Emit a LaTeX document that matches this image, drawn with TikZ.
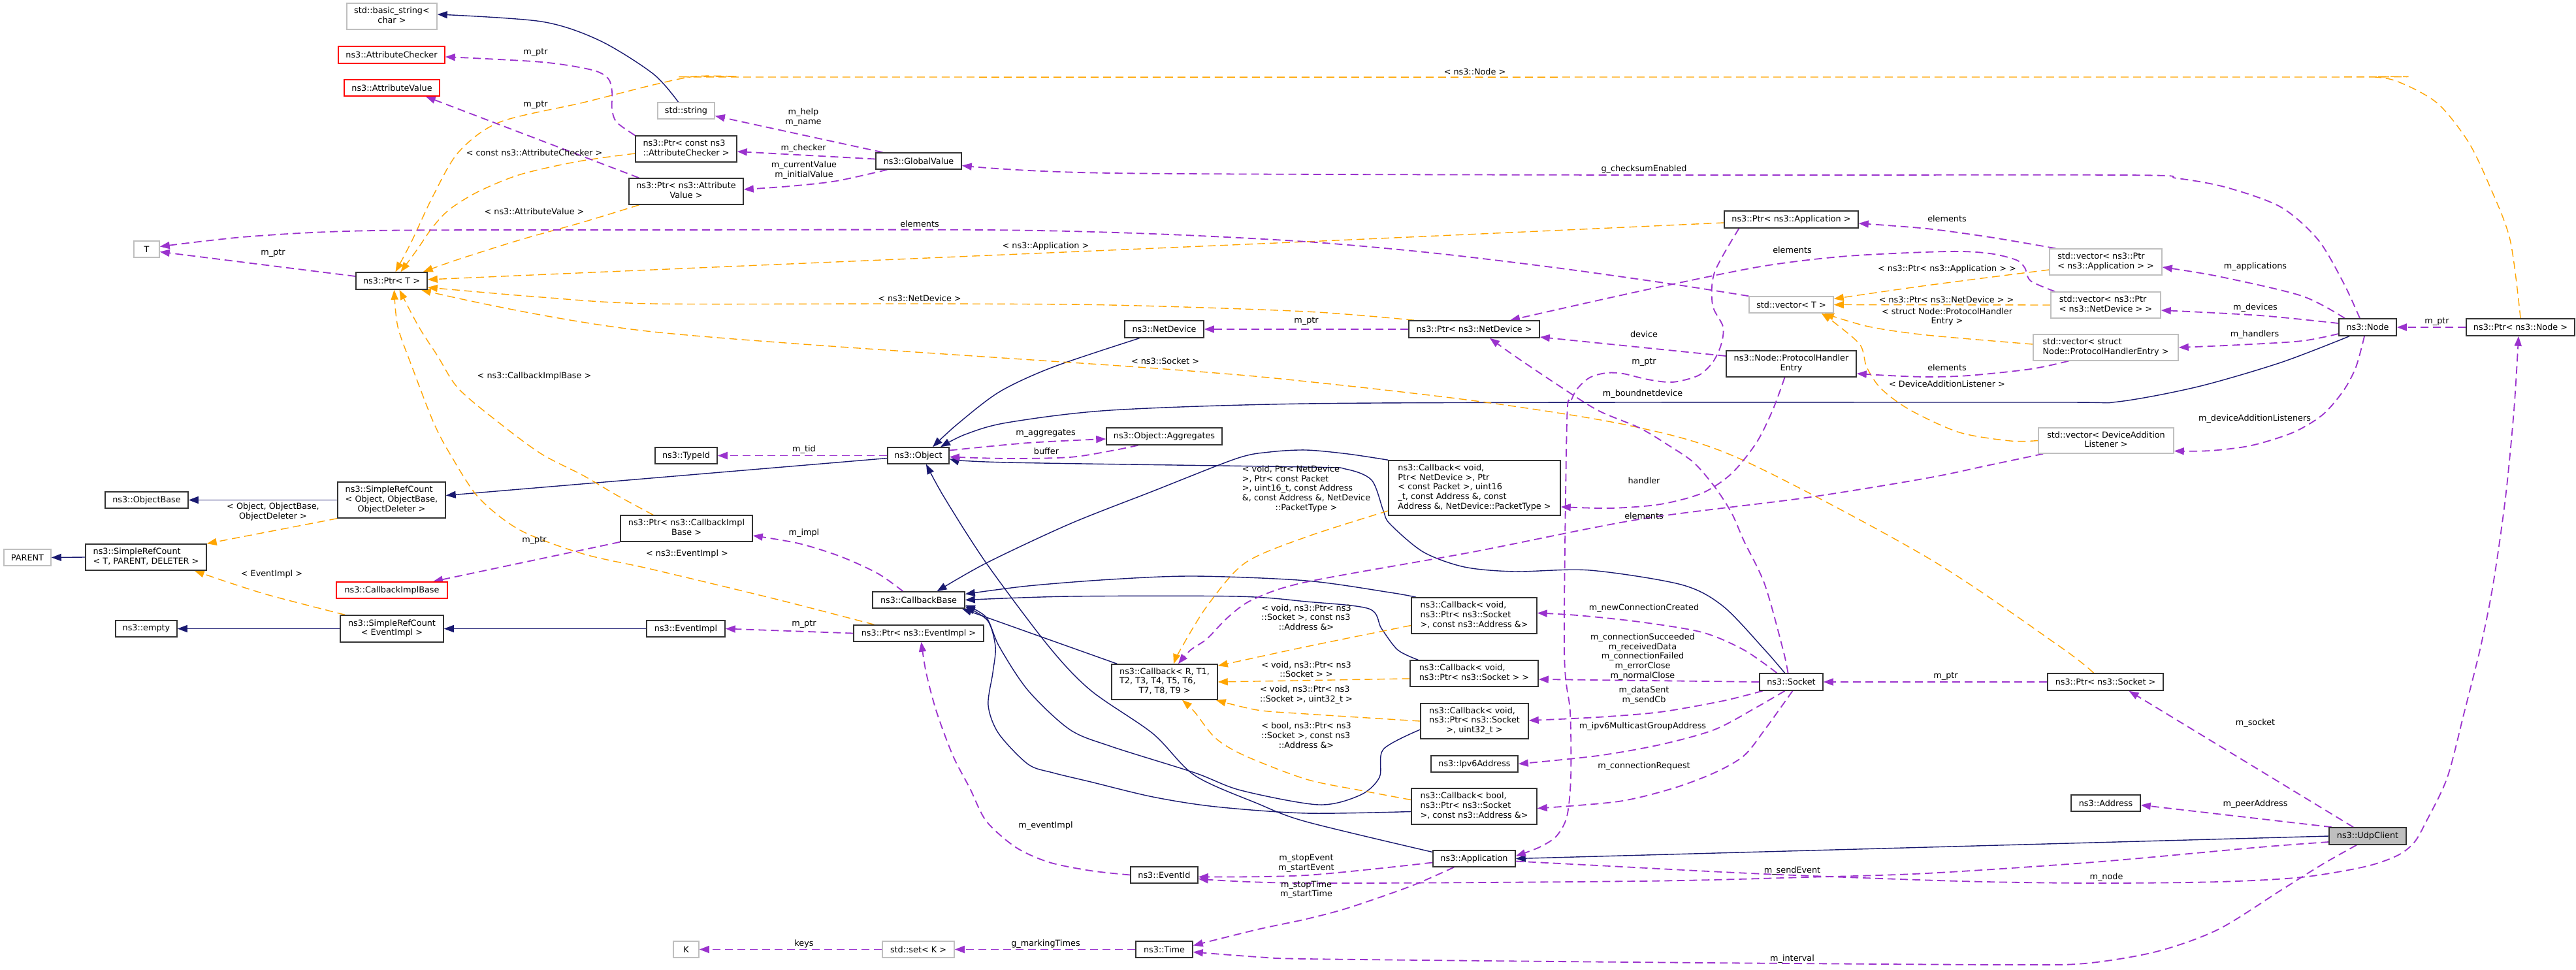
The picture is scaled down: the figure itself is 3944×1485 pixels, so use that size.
\documentclass[tikz,border=0pt]{standalone}
\usepackage{fontspec}
\setmainfont{DejaVu Sans}
\usetikzlibrary{arrows.meta}
\pgfdeclarelayer{bg}
\pgfsetlayers{bg,main}
\definecolor{inhc}{HTML}{191970}
\definecolor{usec}{HTML}{9A32CD}
\definecolor{tplc}{HTML}{FFA500}
\definecolor{undocc}{HTML}{BFBFBF}
\definecolor{boxc}{HTML}{333333}
\newcommand\dxfont{\fontsize{12.8}{14.6}\selectfont}
\newcommand\ml[2]{\begin{tabular}{@{}l@{}}#1\\\multicolumn{1}{@{}c@{}}{#2}\end{tabular}}
\tikzset{
  cls/.style={draw=boxc, line width=1.5pt, fill=white, inner sep=0pt, font=\dxfont},
  undoc/.style={cls, draw=undocc},
  redc/.style={cls, draw=red},
  sz/.style 2 args={minimum width=#1pt, minimum height=#2pt},
  lbl/.style={inner sep=0pt, font=\dxfont},
  inh/.style={draw=inhc, line width=1.4pt, -{Triangle[length=15pt,width=11pt]}},
  use/.style={draw=usec, line width=1.8pt, dash pattern=on 12pt off 7pt, -{Triangle[length=15pt,width=11pt]}},
  tpl/.style={draw=tplc, line width=1.4pt, dash pattern=on 12pt off 7pt, -{Triangle[length=15pt,width=11pt]}}
}
\begin{document}
\begin{tikzpicture}[x=1pt,y=-1pt]
\useasboundingbox (0,0) rectangle (3944,1485);
\begin{pgfonlayer}{bg}
\fill[white] (0,0) rectangle (3944,1485);
\end{pgfonlayer}
% ---------- nodes ----------
\node[undoc, sz={138}{40}] (bstr) at (600,25) {\ml{std::basic\_string<}{char >}};
\node[redc, sz={163}{26}] (achk) at (599.5,84) {ns3::AttributeChecker};
\node[redc, sz={146}{25}] (aval) at (600,134.5) {ns3::AttributeValue};
\node[undoc, sz={39}{25}] (nT) at (224.5,381.5) {T};
\node[cls, sz={109}{26}] (ptrT) at (599.5,430) {ns3::Ptr< T >};
\node[cls, sz={155}{40}] (ptrachk) at (1050.5,228) {\ml{ns3::Ptr< const ns3}{::AttributeChecker >}};
\node[cls, sz={175}{40}] (ptraval) at (1050.5,293) {\ml{ns3::Ptr< ns3::Attribute}{Value >}};
\node[undoc, sz={87}{25}] (str) at (1050.5,169.5) {std::string};
\node[cls, sz={131}{25}] (gval) at (1406.5,246.5) {ns3::GlobalValue};
\node[cls, sz={205}{26}] (ptrapp) at (2742.5,336) {ns3::Ptr< ns3::Application >};
\node[undoc, sz={129}{25}] (vecT) at (2742.5,466.5) {std::vector< T >};
\node[cls, sz={200}{26}] (ptrnd) at (2257,504) {ns3::Ptr< ns3::NetDevice >};
\node[undoc, sz={172}{40}] (vecapp) at (3224,401) {\ml{std::vector< ns3::Ptr}{< ns3::Application > >}};
\node[undoc, sz={168}{40}] (vecnd) at (3224,467) {\ml{std::vector< ns3::Ptr}{< ns3::NetDevice > >}};
\node[cls, sz={88}{26}] (nnode) at (3625,501) {ns3::Node};
\node[cls, sz={166}{26}] (ptrnode) at (3859,501) {ns3::Ptr< ns3::Node >};
\node[cls, sz={165}{55}] (srcobj) at (599.5,765.5) {\ml{ns3::SimpleRefCount\\< Object, ObjectBase,}{ObjectDeleter >}};
\node[cls, sz={127}{25}] (objbase) at (224.5,765.5) {ns3::ObjectBase};
\node[cls, sz={185}{40}] (srcT) at (223.5,853) {\ml{ns3::SimpleRefCount}{< T, PARENT, DELETER >}};
\node[undoc, sz={72}{25}] (parent) at (42,853.5) {PARENT};
\node[redc, sz={170}{25}] (cbib) at (600,903.5) {ns3::CallbackImplBase};
\node[cls, sz={202}{40}] (ptrcbib) at (1051,809) {\ml{ns3::Ptr< ns3::CallbackImpl}{Base >}};
\node[cls, sz={94}{25}] (empty) at (224,962.5) {ns3::empty};
\node[cls, sz={158}{41}] (srcev) at (600,962.5) {\ml{ns3::SimpleRefCount}{< EventImpl >}};
\node[cls, sz={120}{25}] (evimpl) at (1050,962.5) {ns3::EventImpl};
\node[cls, sz={121}{26}] (netdev) at (1782.5,504) {ns3::NetDevice};
\node[cls, sz={177}{26}] (aggr) at (1782.5,668) {ns3::Object::Aggregates};
\node[cls, sz={94}{25}] (obj) at (1406,697.5) {ns3::Object};
\node[cls, sz={95}{25}] (typeid) at (1050.5,697.5) {ns3::TypeId};
\node[cls, sz={141}{25}] (cbbase) at (1406.5,918.5) {ns3::CallbackBase};
\node[cls, sz={199}{25}] (ptrev) at (1406.5,969.5) {ns3::Ptr< ns3::EventImpl >};
\node[cls, sz={199}{40}] (phe) at (2742.5,557) {\ml{ns3::Node::ProtocolHandler}{Entry}};
\node[cls, sz={263}{84}] (cbnd) at (2257.5,747) {\ml{ns3::Callback< void,\\Ptr< NetDevice >, Ptr\\< const Packet >, uint16\\\_t, const Address \&, const}{Address \&, NetDevice::PacketType >}};
\node[undoc, sz={222}{40}] (vecphe) at (3224,532) {\ml{std::vector< struct}{Node::ProtocolHandlerEntry >}};
\node[undoc, sz={207}{39}] (vecdal) at (3224.5,674.5) {\ml{std::vector< DeviceAddition}{Listener >}};
\node[cls, sz={162}{54}] (cbr) at (1783,1044) {\ml{ns3::Callback< R, T1,\\T2, T3, T4, T5, T6,}{T7, T8, T9 >}};
\node[cls, sz={103}{25}] (evid) at (1782.5,1339.5) {ns3::EventId};
\node[undoc, sz={39}{25}] (nK) at (1050.5,1453.5) {K};
\node[undoc, sz={110}{25}] (setk) at (1406,1453.5) {std::set< K >};
\node[cls, sz={87}{25}] (time) at (1782.5,1453.5) {ns3::Time};
\node[cls, sz={192}{55}] (cbsconn) at (2257,942.5) {\ml{ns3::Callback< void,\\ns3::Ptr< ns3::Socket}{>, const ns3::Address \&>}};
\node[cls, sz={196}{40}] (cbs) at (2257,1031) {\ml{ns3::Callback< void,}{ns3::Ptr< ns3::Socket > >}};
\node[cls, sz={97}{26}] (socket) at (2742.5,1044) {ns3::Socket};
\node[cls, sz={165}{54}] (cbsu) at (2257.5,1104) {\ml{ns3::Callback< void,\\ns3::Ptr< ns3::Socket}{>, uint32\_t >}};
\node[cls, sz={133}{25}] (ipv6) at (2257.5,1169.5) {ns3::Ipv6Address};
\node[cls, sz={192}{55}] (cbbool) at (2257,1234.5) {\ml{ns3::Callback< bool,\\ns3::Ptr< ns3::Socket}{>, const ns3::Address \&>}};
\node[cls, sz={126}{25}] (app) at (2257,1314.5) {ns3::Application};
\node[cls, sz={177}{26}] (ptrsock) at (3223.5,1044) {ns3::Ptr< ns3::Socket >};
\node[cls, sz={106}{25}] (addr) at (3224,1229.5) {ns3::Address};
\node[cls, fill=undocc, sz={118}{26}] (udp) at (3625,1280) {ns3::UdpClient};
% ---------- edge labels ----------
\node[lbl] (lb1) at (820,81) {m\_ptr};
\node[lbl] (lb2) at (820,161) {m\_ptr};
\node[lbl] (lb3) at (818,234) {< const ns3::AttributeChecker >};
\node[lbl] (lb4) at (818,324) {< ns3::AttributeValue >};
\node[lbl] (lb5) at (418,388) {m\_ptr};
\node[lbl,align=center] (lb6) at (1230,179.5) {m\_help\\m\_name};
\node[lbl] (lb7) at (1230,227) {m\_checker};
\node[lbl,align=center] (lb8) at (1231,260.5) {m\_currentValue\\m\_initialValue};
\node[lbl] (lb9) at (1408,343) {elements};
\node[lbl] (lb10) at (1601,377) {< ns3::Application >};
\node[lbl] (lb11) at (1408,457) {< ns3::NetDevice >};
\node[lbl] (lb12) at (2258,110) {< ns3::Node >};
\node[lbl] (lb13) at (2517,259) {g\_checksumEnabled};
\node[lbl] (lb14) at (2744,383) {elements};
\node[lbl] (lb15) at (2981,335) {elements};
\node[lbl] (lb16) at (2981,412) {< ns3::Ptr< ns3::Application > >};
\node[lbl] (lb17) at (2980,459) {< ns3::Ptr< ns3::NetDevice > >};
\node[lbl] (lb18) at (2981,485.5) {\ml{< struct Node::ProtocolHandler}{Entry >}};
\node[lbl] (lb19) at (3453,408) {m\_applications};
\node[lbl] (lb20) at (3453,471) {m\_devices};
\node[lbl] (lb21) at (3731,493) {m\_ptr};
\node[lbl] (lb22) at (818,576) {< ns3::CallbackImplBase >};
\node[lbl] (lb23) at (418,784) {\ml{< Object, ObjectBase,}{ObjectDeleter >}};
\node[lbl] (lb24) at (416,879) {< EventImpl >};
\node[lbl] (lb25) at (818,828) {m\_ptr};
\node[lbl] (lb26) at (1052,848) {< ns3::EventImpl >};
\node[lbl] (lb27) at (2000,492) {m\_ptr};
\node[lbl] (lb28) at (1784,553) {< ns3::Socket >};
\node[lbl] (lb29) at (1601,664) {m\_aggregates};
\node[lbl] (lb30) at (1602,691) {buffer};
\node[lbl] (lb31) at (1231,688) {m\_tid};
\node[lbl] (lb32) at (1231,816) {m\_impl};
\node[lbl] (lb33) at (1231,956) {m\_ptr};
\node[lbl] (lb34) at (2000,749) {\ml{< void, Ptr< NetDevice\\>, Ptr< const Packet\\>, uint16\_t, const Address\\\&, const Address \&, NetDevice}{::PacketType >}};
\node[lbl] (lb35) at (2517,512) {device};
\node[lbl] (lb36) at (2517,555) {m\_ptr};
\node[lbl] (lb37) at (2515,603) {m\_boundnetdevice};
\node[lbl] (lb38) at (2981,563) {elements};
\node[lbl] (lb39) at (2981,588) {< DeviceAdditionListener >};
\node[lbl] (lb40) at (2517,736) {handler};
\node[lbl] (lb41) at (2517,790) {elements};
\node[lbl] (lb42) at (3452,512) {m\_handlers};
\node[lbl] (lb43) at (3452,641) {m\_deviceAdditionListeners};
\node[lbl] (lb44) at (2000,947) {\ml{< void, ns3::Ptr< ns3\\::Socket >, const ns3}{::Address \&>}};
\node[lbl] (lb45) at (2517,931) {m\_newConnectionCreated};
\node[lbl,align=center] (lb46) at (2515,1005.5) {m\_connectionSucceeded\\m\_receivedData\\m\_connectionFailed\\m\_errorClose\\m\_normalClose};
\node[lbl] (lb47) at (2000,1026.5) {\ml{< void, ns3::Ptr< ns3}{::Socket > >}};
\node[lbl] (lb48) at (2000,1064) {\ml{< void, ns3::Ptr< ns3}{::Socket >, uint32\_t >}};
\node[lbl] (lb49) at (2000,1127.5) {\ml{< bool, ns3::Ptr< ns3\\::Socket >, const ns3}{::Address \&>}};
\node[lbl] (lb50) at (1601,1264) {m\_eventImpl};
\node[lbl,align=center] (lb51) at (2000,1322) {m\_stopEvent\\m\_startEvent};
\node[lbl,align=center] (lb52) at (2000,1362) {m\_stopTime\\m\_startTime};
\node[lbl] (lb53) at (1231,1445) {keys};
\node[lbl] (lb54) at (1601,1445) {g\_markingTimes};
\node[lbl] (lb55) at (2979,1036) {m\_ptr};
\node[lbl,align=center] (lb56) at (2517,1064.5) {m\_dataSent\\m\_sendCb};
\node[lbl] (lb57) at (2515,1112) {m\_ipv6MulticastGroupAddress};
\node[lbl] (lb58) at (2517,1173) {m\_connectionRequest};
\node[lbl] (lb59) at (2744,1333) {m\_sendEvent};
\node[lbl] (lb60) at (2744,1468) {m\_interval};
\node[lbl] (lb61) at (3453,1107) {m\_socket};
\node[lbl] (lb62) at (3453,1231) {m\_peerAddress};
\node[lbl] (lb63) at (3225,1343) {m\_node};
% ---------- edges ----------
\begin{pgfonlayer}{bg}
% inheritance
\draw[inh] plot[smooth] coordinates {([xshift=-12pt]str.north) (1000,113) (918,62) (829,33) ([yshift=3pt]bstr.east)};
\draw[inh] (srcobj.west) -- (objbase.east);
\draw[inh] (srcT.west) -- (parent.east);
\draw[inh] (srcev.west) -- (empty.east);
\draw[inh] (evimpl.west) -- (srcev.east);
\draw[inh] (obj) -- (srcobj);
\draw[inh] plot[smooth] coordinates {([xshift=-38pt]netdev.south) (1612,562) (1530,600) (1465,650) ([xshift=22pt]obj.north)};
\draw[inh] plot[smooth] coordinates {([xshift=-28pt]nnode.south) (3492,555) (3365,592) (3243,615) (3150,616) (2500,616) (2000,618) (1701,628) (1542,647) (1478,665) ([xshift=34pt]obj.north)};
\draw[inh] plot[smooth] coordinates {([xshift=-10pt]socket.north) (2702,995) (2638,928) (2574,895) (2434,873) (2319,875) (2242,868) (2179,845) (2128,802) (2118,782) (2100,735) (2060,718) (2000,715) (1542,708) ([yshift=-5pt]obj.east)};
\draw[inh] plot[smooth] coordinates {([yshift=10pt]app.west) (2000,1258) (1925,1230) (1829,1187) (1765,1123) (1670,1057) (1606,990) (1510,862) (1446,762) ([xshift=12pt]obj.south)};
\draw[inh] plot[smooth] coordinates {(cbnd.north west) (2064,695) (2000,689) (1944,692) (1893,702) (1765,752) (1638,802) (1510,862) ([xshift=28pt]cbbase.north)};
\draw[inh] plot[smooth] coordinates {([xshift=8pt]cbsconn.north west) (2128,907) (2000,889) (1829,882) (1701,887) (1574,897) ([yshift=9pt]cbbase.east)};
\draw[inh] plot[smooth] coordinates {([xshift=13pt]cbs.north west) (2140,995) (2115,962) (2096,932) (2000,921) (1893,913) (1638,913) (cbbase.east)};
\draw[inh] ([xshift=9pt]cbr.north west) -- ([xshift=-5pt]cbbase.south east);
\draw[inh] plot[smooth] coordinates {([yshift=-13pt]cbsu.west) (2118,1147) (2112,1190) (2083,1217) (2019,1232) (1900,1210) (1829,1183) (1702,1143) (1638,1117) (1574,1057) (1530,990) (1510,945) ([yshift=-8pt]cbbase.east)};
\draw[inh] plot[smooth] coordinates {([yshift=-8pt]cbbool.west) (2000,1245) (1861,1235) (1765,1220) (1670,1197) (1612,1183) (1574,1170) (1529,1123) (1513,1080) (1520,1030) (1524,990) (1512,950) ([yshift=-10pt]cbbase.east)};
\draw[inh] (udp.west) -- (app.east);
% template instances
\draw[tpl] plot[smooth] coordinates {([yshift=-7pt]ptrachk.west) (886,247) (797,267) (733,293) (689,320) (663,347) (638,383) ([xshift=14pt]ptrT.north)};
\draw[tpl] plot[smooth] coordinates {([xshift=-72pt]ptraval.south) (893,340) (797,367) (702,397) ([xshift=-7pt]ptrT.north east)};
\draw[tpl] plot[smooth] coordinates {(ptrnode.north) (3843,367) (3811,283) (3779,217) (3734,160) (3683,130) (3636,118) (3500,118) (1200,118) (1128,117) (1064,117) (1000,130) (893,157) (765,187) (702,233) (663,300) (630,370) ([xshift=6pt]ptrT.north)};
\draw[tpl] plot[smooth] coordinates {([yshift=-5pt]ptrapp.west) (2000,370) (1000,413) ([yshift=2pt]ptrT.east)};
\draw[tpl] plot[smooth] coordinates {([xshift=9pt]ptrnd.north west) (2000,477) (1700,467) (1408,465) (1000,465) (829,455) ([yshift=-10pt]ptrT.east)};
\draw[tpl] plot[smooth] coordinates {([xshift=-18pt]ptrsock.north) (3154,990) (2950,853) (2663,702) (2497,652) (2268,615) (2000,584) (1784,565) (1000,508) ([xshift=-10pt]ptrT.south east)};
\draw[tpl] plot[smooth] coordinates {([xshift=-51pt]ptrcbib.north) (944,758) (893,728) (829,695) (765,648) (702,595) (670,545) (641,500) ([xshift=12pt]ptrT.south)};
\draw[tpl] plot[smooth] coordinates {([xshift=-68pt]ptrev.north) (1191,918) (1000,872) (893,848) (797,812) (733,762) (689,695) (663,645) (631,562) (609,500) ([xshift=4pt]ptrT.south)};
\draw[tpl] (srcobj.south west) -- (srcT.north east);
\draw[tpl] plot[smooth] coordinates {([xshift=8pt]srcev.north west) (415,912) (351,892) ([xshift=-19pt]srcT.south east)};
\draw[tpl] plot[smooth] coordinates {([yshift=-12pt]vecapp.west) (2950,437) ([yshift=9pt]vecT.east)};
\draw[tpl] (vecnd.west) -- (vecT.east);
\draw[tpl] plot[smooth] coordinates {([yshift=5pt]vecphe.west) (2950,513) (2861,500) ([xshift=-15pt]vecT.south east)};
\draw[tpl] plot[smooth] coordinates {(vecdal.west) (3078,675) (3000,662) (2925,628) (2880,595) (2858,562) (2848,528) (2810,495) ([xshift=-19pt]vecT.south east)};
\draw[tpl] plot[smooth] coordinates {([yshift=-15pt]cbsconn.west) (2000,990) ([yshift=-3pt]cbr.north east)};
\draw[tpl] ([yshift=-8pt]cbs.west) -- (cbr.east);
\draw[tpl] plot[smooth] coordinates {(cbsu.west) (2000,1093) (1925,1087) ([xshift=-3pt]cbr.south east)};
\draw[tpl] plot[smooth] coordinates {([yshift=10pt]cbbool.west) (2083,1210) (2000,1193) (1906,1157) (1861,1130) (1829,1090) ([xshift=27pt]cbr.south)};
\draw[tpl] plot[smooth] coordinates {([yshift=-35pt]cbnd.west) (2000,822) (1906,862) (1848,928) (1807,995) ([xshift=14pt]cbr.north)};
% usage
\draw[use] plot[smooth] coordinates {(ptrachk.north west) (944,187) (937,167) (937,140) (931,120) (906,107) (829,95) ([yshift=-3pt]achk.east)};
\draw[use] ([xshift=16pt]ptraval.north west) -- ([xshift=-22pt]aval.south east);
\draw[use] ([xshift=-55pt]gval.north) -- ([yshift=-8pt]str.east);
\draw[use] ([yshift=3pt]gval.west) -- ([yshift=-4pt]ptrachk.east);
\draw[use] plot[smooth] coordinates {([xshift=-48pt]gval.south) (1281,277) (1210,285) ([yshift=3pt]ptraval.east)};
\draw[use] plot[smooth] coordinates {([xshift=-12pt]nnode.north) (3588,433) (3549,367) (3492,317) (3409,287) (3333,273) (3250,268) (2500,268) (1701,265) ([yshift=-7pt]gval.east)};
\draw[use] ([yshift=7pt]ptrT.west) -- ([yshift=-4pt]nT.east);
\draw[use] plot[smooth] coordinates {(vecT.north west) (2561,435) (2383,410) (2191,387) (2000,370) (1765,358) (1510,352) (1000,352) (574,353) (383,362) ([yshift=4pt]nT.east)};
\draw[use] plot[smooth] coordinates {([xshift=10pt]vecapp.north west) (3046,363) (2950,350) ([yshift=-6pt]ptrapp.east)};
\draw[use] plot[smooth] coordinates {([xshift=7pt]vecnd.north west) (3109,430) (3100,410) (3087,398) (3046,388) (2982,385) (2829,392) (2702,407) (2561,435) (2446,460) ([xshift=55pt]ptrnd.north)};
\draw[use] (ptrnd.west) -- (netdev.east);
\draw[use] ([yshift=12pt]phe.west) -- ([yshift=-12pt]ptrnd.east);
\draw[use] plot[smooth] coordinates {([xshift=-80pt]ptrapp.south) (2625,417) (2622,467) (2638,500) (2635,528) (2622,555) (2600,575) (2561,585) (2523,581) (2485,572) (2459,571) (2434,578) (2415,595) (2405,615) (2399,645) (2395,995) (2404,1090) (2405,1190) (2399,1250) (2383,1280) (2357,1297) ([yshift=4pt]app.east)};
\draw[use] plot[smooth] coordinates {([xshift=-5pt]socket.north) (2730,995) (2702,895) (2670,828) (2651,785) (2625,745) (2593,708) (2555,682) (2510,655) (2446,628) (2383,588) (2319,545) ([xshift=24pt]ptrnd.south)};
\draw[use] plot[smooth] coordinates {([xshift=-10pt]phe.south) (2714,628) (2689,678) (2651,725) (2606,755) (2542,772) (2466,778) ([yshift=-29pt]cbnd.east)};
\draw[use] plot[smooth] coordinates {([xshift=-57pt]vecphe.south) (3109,565) (3014,575) (2950,577) (2893,575) ([yshift=-15pt]phe.east)};
\draw[use] plot[smooth] coordinates {([xshift=8pt]vecdal.south west) (3046,712) (2950,732) (2765,762) (2510,795) (2255,845) (2000,891) (1918,918) (1880,945) (1848,978) (1823,995) ([xshift=21pt]cbr.north)};
\draw[use] plot[smooth] coordinates {([xshift=-35pt]nnode.north) (3524,453) (3396,423) ([yshift=-8pt]vecapp.east)};
\draw[use] plot[smooth] coordinates {([yshift=6pt]nnode.west) (3460,483) ([yshift=-8pt]vecnd.east)};
\draw[use] plot[smooth] coordinates {([yshift=-10pt]nnode.west) (3524,522) (3428,528) (vecphe.east)};
\draw[use] plot[smooth] coordinates {([xshift=-5pt]nnode.south) (3607,562) (3588,598) (3556,635) (3511,662) (3447,682) (3384,690) ([yshift=-16pt]vecdal.east)};
\draw[use] (ptrnode.west) -- (nnode.east);
\draw[use] plot[smooth] coordinates {([xshift=-22pt]socket.north) (2670,995) (2606,968) (2510,952) (2415,942) ([yshift=4pt]cbsconn.east)};
\draw[use] (socket.west) -- ([yshift=-9pt]cbs.east);
\draw[use] plot[smooth] coordinates {([xshift=-44pt]socket.south) (2638,1073) (2542,1090) (2446,1098) ([yshift=1pt]cbsu.east)};
\draw[use] plot[smooth] coordinates {([xshift=-10pt]socket.south) (2689,1083) (2625,1117) (2542,1140) (2446,1157) (ipv6.east)};
\draw[use] plot[smooth] coordinates {([xshift=2pt]socket.south) (2702,1117) (2670,1157) (2625,1183) (2561,1207) (2478,1227) ([yshift=-3pt]cbbool.east)};
\draw[use] (ptrsock.west) -- (socket.east);
\draw[use] ([xshift=-22pt]udp.north) -- ([xshift=36pt]ptrsock.south);
\draw[use] ([xshift=-55pt]udp.north) -- ([yshift=-3pt]addr.east);
\draw[use] plot[smooth] coordinates {([yshift=-9pt]udp.west) (3460,1297) (3205,1320) (2950,1337) (2765,1343) (2510,1349) (2000,1352) ([yshift=-6pt]evid.east)};
\draw[use] plot[smooth] coordinates {([yshift=-6pt]app.west) (2000,1340) ([yshift=-3pt]evid.east)};
\draw[use] plot[smooth] coordinates {([xshift=-31pt]app.south) (2159,1357) (2064,1390) (2000,1407) (1925,1423) ([yshift=6pt]time.east)};
\draw[use] plot[smooth] coordinates {([yshift=-4pt]app.east) (2446,1325) (2701,1338) (3000,1349) (3205,1352) (3396,1350) (3524,1343) (3620,1327) (3670,1310) (3696,1290) (3715,1257) (3747,1190) (3773,1090) (3798,990) (3817,895) (3836,762) (3849,628) ([xshift=-3pt]ptrnode.south)};
\draw[use] plot[smooth] coordinates {([xshift=-17pt]udp.south) (3556,1323) (3492,1363) (3396,1423) (3301,1457) (3192,1475) (3078,1477) (2744,1475) (2383,1472) (2000,1468) (1925,1465) ([yshift=-4pt]time.east)};
\draw[use] plot[smooth] coordinates {(evid.west) (1670,1333) (1606,1320) (1555,1297) (1510,1257) (1485,1207) (1459,1157) (1434,1090) (1418,1030) ([xshift=4pt]ptrev.south)};
\draw[use] (ptrev.west) -- (evimpl.east);
\draw[use] (ptrcbib.south west) -- ([xshift=63pt]cbib.north);
\draw[use] plot[smooth] coordinates {([xshift=-24pt]cbbase.north) (1344,878) (1287,852) (1223,832) ([yshift=-11pt]ptrcbib.east)};
\draw[use] (obj.west) -- (typeid.east);
\draw[use] plot[smooth] coordinates {([yshift=8pt]obj.east) (1574,678) ([yshift=-4pt]aggr.west)};
\draw[use] plot[smooth] coordinates {([xshift=-40pt]aggr.south) (1702,690) (1638,700) (1542,702) ([yshift=-2pt]obj.east)};
\draw[use] (time.west) -- (setk.east);
\draw[use] (setk.west) -- (nK.east);
\end{pgfonlayer}
\end{tikzpicture}
\end{document}
